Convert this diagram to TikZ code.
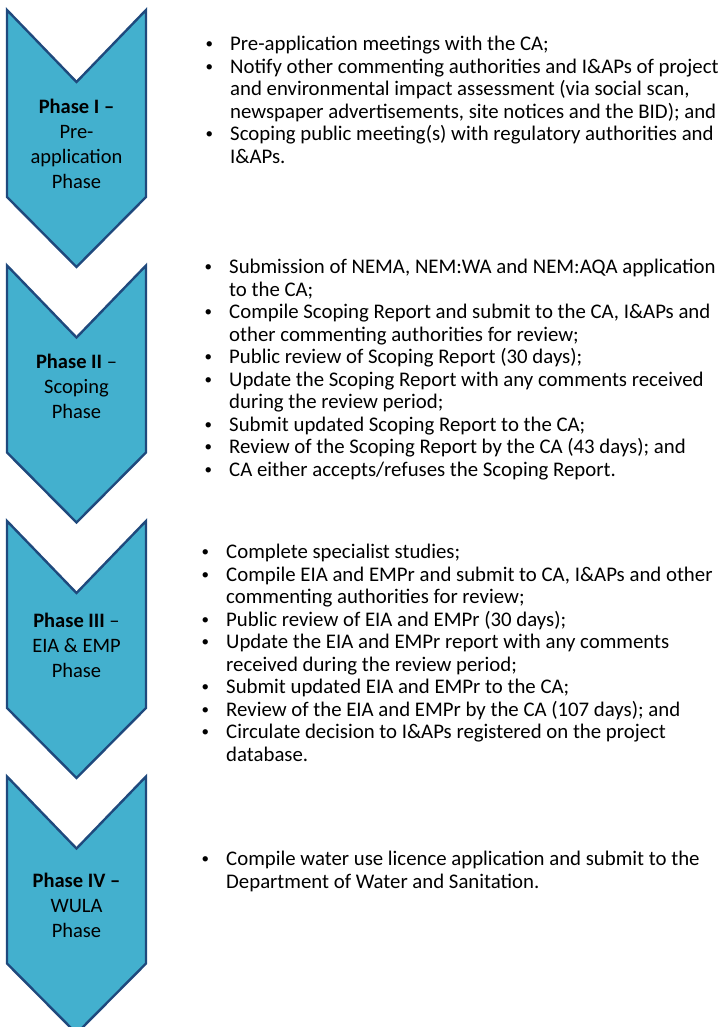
\documentclass[tikz,border=0pt]{standalone}
\usepackage{fontspec}
\setmainfont{Carlito}
\definecolor{chevfill}{RGB}{67,176,206}
\definecolor{chevline}{RGB}{31,73,125}
\newcommand\bi{\makebox[25pt][l]{\hspace{0.5pt}\raisebox{2.1pt}{\fontsize{15}{15}\selectfont\textbullet}}}
\newcommand\ci{\hspace*{25pt}}
\tikzset{
  chev/.style={fill=chevfill,draw=chevline,line width=2.4pt,line join=miter},
  phasetext/.style={anchor=north,align=center,inner sep=0pt,font=\fontsize{20.5}{25}\selectfont},
  bullets/.style={anchor=north west,align=left,inner sep=0pt,font=\fontsize{20.8}{22.5}\selectfont}
}
\begin{document}
\begin{tikzpicture}[x=1pt,y=-1pt]
\useasboundingbox (0,0) rectangle (721,1027);
\begin{scope}
\clip (0,0) rectangle (721,1027);
\foreach \T in {10,265.5,521,776.5}{
  \draw[chev] (7,\T) -- (76.5,\T+72) -- (146,\T) -- (146,\T+187) -- (76.5,\T+257) -- (7,\T+187) -- cycle;
}
\end{scope}
\node[phasetext] (p1) at (76.5,95.5) {\strut\textbf{Phase I –}\\Pre-\\application\\Phase};
\node[phasetext] (p2) at (76.5,350.5) {\strut\textbf{Phase II} –\\Scoping\\Phase};
\node[phasetext] (p3) at (76.5,609.5) {\strut\textbf{Phase III} –\\EIA \& EMP\\Phase};
\node[phasetext] (p4) at (76.5,869.5) {\strut\textbf{Phase IV –}\\WULA\\Phase};

\node[bullets] (t1) at (205,35) {\strut\bi Pre-application meetings with the CA;\\
\bi Notify other commenting authorities and I\&APs of project\\
\ci and environmental impact assessment (via social scan,\\
\ci newspaper advertisements, site notices and the BID); and\\
\bi Scoping public meeting(s) with regulatory authorities and\\
\ci I\&APs.};

\node[bullets] (t2) at (204,258) {\strut\bi Submission of NEMA, NEM:WA and NEM:AQA application\\
\ci to the CA;\\
\bi Compile Scoping Report and submit to the CA, I\&APs and\\
\ci other commenting authorities for review;\\
\bi Public review of Scoping Report (30 days);\\
\bi Update the Scoping Report with any comments received\\
\ci during the review period;\\
\bi Submit updated Scoping Report to the CA;\\
\bi Review of the Scoping Report by the CA (43 days); and\\
\bi CA either accepts/refuses the Scoping Report.};

\node[bullets] (t3) at (201,543) {\strut\bi Complete specialist studies;\\
\bi Compile EIA and EMPr and submit to CA, I\&APs and other\\
\ci commenting authorities for review;\\
\bi Public review of EIA and EMPr (30 days);\\
\bi Update the EIA and EMPr report with any comments\\
\ci received during the review period;\\
\bi Submit updated EIA and EMPr to the CA;\\
\bi Review of the EIA and EMPr by the CA (107 days); and\\
\bi Circulate decision to I\&APs registered on the project\\
\ci database.};

\node[bullets] (t4) at (201,850) {\strut\bi Compile water use licence application and submit to the\\
\ci Department of Water and Sanitation.};
\end{tikzpicture}
\end{document}
